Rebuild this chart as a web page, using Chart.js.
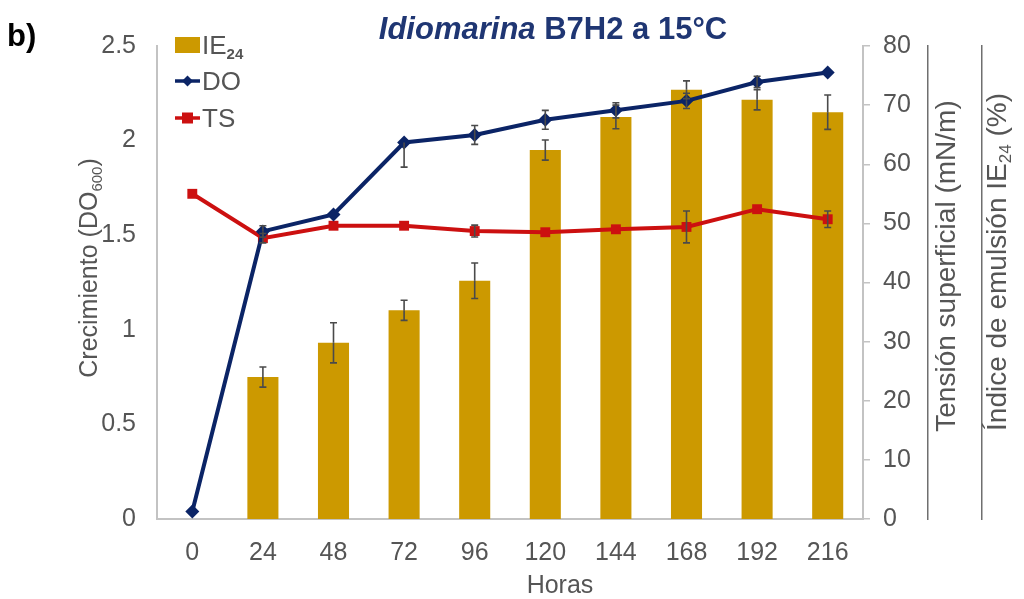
<!DOCTYPE html>
<html>
<head>
<meta charset="utf-8">
<script src="https://cdn.jsdelivr.net/npm/chart.js@4/dist/chart.umd.min.js"></script>
<style>
  html, body { margin: 0; padding: 0; background: #ffffff; }
  #wrap { width: 1024px; height: 599px; position: relative; }
  canvas { display: block; }
</style>
</head>
<body>
<div id="wrap"><canvas id="chart" width="1024" height="599"></canvas></div>
<script>
// Sampling times (hours)
const horas = ['0', '24', '48', '72', '96', '120', '144', '168', '192', '216'];

// Emulsification index IE24 (%) and its standard deviation
const ie24 = [null, 24.0, 29.8, 35.3, 40.3, 62.4, 68.0, 72.6, 70.9, 68.8];
const ie24Err = [0, 1.7, 3.4, 1.7, 3.0, 1.7, 2.0, 1.5, 1.7, 2.9];

// Growth (OD600) with upper / lower deviations
const doValues = [0.04, 1.52, 1.61, 1.99, 2.03, 2.11, 2.16, 2.21, 2.31, 2.36];
const doErrUp = [0, 0.03, 0, 0, 0.05, 0.05, 0.04, 0.04, 0.03, 0];
const doErrDown = [0, 0.03, 0, 0.13, 0.05, 0.05, 0.04, 0.04, 0.03, 0];

// Surface tension (mN/m) and its deviation
const tsValues = [55.0, 47.5, 49.6, 49.6, 48.7, 48.5, 49.0, 49.4, 52.4, 50.7];
const tsErr = [0, 0.8, 0, 0, 1.0, 0, 0, 2.7, 0, 1.4];

// Axis tick labels
const leftTicks = [0, 0.5, 1, 1.5, 2, 2.5];
const rightTicks = [0, 10, 20, 30, 40, 50, 60, 70, 80];

const FONT = "'Liberation Sans', Arial, sans-serif";
const GREY = '#555555';
const AXIS = '#c3c3c3';
const GOLD = '#cc9900';
const NAVY = '#0b2466';
const RED = '#cc1010';
const TITLE_BLUE = '#1f3673';

Chart.defaults.font.family = FONT;
Chart.defaults.color = GREY;

// Draw a run of text pieces (some of them subscripts) starting at x
function richWidth(ctx, parts) {
  let w = 0;
  parts.forEach(p => { ctx.font = p.font; w += ctx.measureText(p.text).width; });
  return w;
}
function drawRich(ctx, parts, x, y, align) {
  const w = richWidth(ctx, parts);
  let cx = align === 'center' ? x - w / 2 : x;
  ctx.textAlign = 'left';
  ctx.textBaseline = 'alphabetic';
  parts.forEach(p => {
    ctx.font = p.font;
    ctx.fillStyle = p.color;
    ctx.fillText(p.text, cx, y + (p.dy || 0));
    cx += ctx.measureText(p.text).width;
  });
}

// Error bars, drawn from the dataset values through each dataset's own scale
const errorBars = {
  id: 'errorBars',
  afterDatasetsDraw(chart) {
    const ctx = chart.ctx;
    const sets = [
      { index: 0, up: ie24Err, down: ie24Err, values: ie24 },
      { index: 1, up: doErrUp, down: doErrDown, values: doValues },
      { index: 2, up: tsErr, down: tsErr, values: tsValues }
    ];
    ctx.save();
    ctx.strokeStyle = '#4a4a4a';
    ctx.lineWidth = 1.6;
    sets.forEach(s => {
      const meta = chart.getDatasetMeta(s.index);
      const scale = chart.scales[meta.yAxisID];
      meta.data.forEach((el, i) => {
        const v = s.values[i];
        if (v === null || v === undefined) return;
        const x = el.x;
        const cap = 3.5;
        [[s.up[i], 1], [s.down[i], -1]].forEach(([e, sign]) => {
          if (!(e > 0)) return;
          const y0 = scale.getPixelForValue(v);
          const y1 = scale.getPixelForValue(v + sign * e);
          ctx.beginPath();
          ctx.moveTo(x, y0); ctx.lineTo(x, y1);
          ctx.moveTo(x - cap, y1); ctx.lineTo(x + cap, y1);
          ctx.stroke();
        });
      });
    });
    ctx.restore();
  }
};

// Title, panel letter, axis titles and the in-plot legend
const decorations = {
  id: 'decorations',
  afterDraw(chart) {
    const ctx = chart.ctx;
    const area = chart.chartArea;
    ctx.save();

    // panel letter
    ctx.font = `bold 31px ${FONT}`;
    ctx.fillStyle = '#000000';
    ctx.textAlign = 'left';
    ctx.textBaseline = 'middle';
    ctx.fillText('b)', 7, 37);

    // chart title
    drawRich(ctx, [
      { text: 'Idiomarina', font: `italic bold 31px ${FONT}`, color: TITLE_BLUE },
      { text: ' B7H2 a 15°C', font: `bold 31px ${FONT}`, color: TITLE_BLUE }
    ], 553, 39, 'center');

    // x axis title
    drawRich(ctx, [
      { text: 'Horas', font: `25px ${FONT}`, color: GREY }
    ], 560, 593, 'center');

    // left axis title
    ctx.save();
    ctx.translate(97, 268);
    ctx.rotate(-Math.PI / 2);
    drawRich(ctx, [
      { text: 'Crecimiento (DO', font: `25px ${FONT}`, color: GREY },
      { text: '600', font: `15px ${FONT}`, color: GREY, dy: 5 },
      { text: ')', font: `25px ${FONT}`, color: GREY }
    ], 0, 0, 'center');
    ctx.restore();

    // right axis titles
    const yTitle = chart.scales.yTitle;
    const yIE = chart.scales.yIE;
    ctx.save();
    ctx.translate(yTitle.left + 27, 266);
    ctx.rotate(-Math.PI / 2);
    drawRich(ctx, [
      { text: 'Tensión superficial (mN/m)', font: `28px ${FONT}`, color: GREY }
    ], 0, 0, 'center');
    ctx.restore();

    ctx.save();
    ctx.translate(yIE.left + 24, 262);
    ctx.rotate(-Math.PI / 2);
    drawRich(ctx, [
      { text: 'Índice de emulsión IE', font: `28px ${FONT}`, color: GREY },
      { text: '24', font: `17px ${FONT}`, color: GREY, dy: 5 },
      { text: ' (%)', font: `28px ${FONT}`, color: GREY }
    ], 0, 0, 'center');
    ctx.restore();

    // legend
    const lx = area.left + 18;
    const items = [
      { type: 'box', color: GOLD, y: 45, parts: [
        { text: 'IE', font: `26px ${FONT}`, color: GREY },
        { text: '24', font: `bold 15px ${FONT}`, color: GREY, dy: 5 }] },
      { type: 'line', color: NAVY, style: 'diamond', y: 81, parts: [
        { text: 'DO', font: `26px ${FONT}`, color: GREY }] },
      { type: 'line', color: RED, style: 'square', y: 118, parts: [
        { text: 'TS', font: `26px ${FONT}`, color: GREY }] }
    ];
    items.forEach(it => {
      if (it.type === 'box') {
        ctx.fillStyle = it.color;
        ctx.fillRect(lx, it.y - 8, 25, 16);
      } else {
        ctx.strokeStyle = it.color;
        ctx.lineWidth = 3.5;
        ctx.beginPath();
        ctx.moveTo(lx, it.y); ctx.lineTo(lx + 25, it.y);
        ctx.stroke();
        ctx.fillStyle = it.color;
        const mx = lx + 12.5;
        if (it.style === 'diamond') {
          ctx.beginPath();
          ctx.moveTo(mx, it.y - 5.5); ctx.lineTo(mx + 5.5, it.y);
          ctx.lineTo(mx, it.y + 5.5); ctx.lineTo(mx - 5.5, it.y);
          ctx.closePath(); ctx.fill();
        } else {
          ctx.fillRect(mx - 5.5, it.y - 5.5, 11, 11);
        }
      }
      drawRich(ctx, it.parts, lx + 27, it.y + 9, 'left');
    });

    ctx.restore();
  }
};

new Chart(document.getElementById('chart'), {
  type: 'bar',
  data: {
    labels: horas,
    datasets: [
      {
        type: 'bar',
        label: 'IE24',
        data: ie24,
        yAxisID: 'yIE',
        backgroundColor: GOLD,
        borderWidth: 0,
        categoryPercentage: 1,
        barPercentage: 0.44,
        order: 3
      },
      {
        type: 'line',
        label: 'DO',
        data: doValues,
        yAxisID: 'y',
        borderColor: NAVY,
        backgroundColor: NAVY,
        borderWidth: 4,
        pointStyle: 'rectRot',
        pointRadius: 7,
        pointBorderWidth: 0,
        tension: 0,
        order: 1
      },
      {
        type: 'line',
        label: 'TS',
        data: tsValues,
        yAxisID: 'yTS',
        borderColor: RED,
        backgroundColor: RED,
        borderWidth: 4,
        pointStyle: 'rect',
        pointRadius: 7,
        pointBorderWidth: 0,
        tension: 0,
        order: 2
      }
    ]
  },
  options: {
    responsive: false,
    animation: false,
    devicePixelRatio: 1,
    layout: { padding: { top: 46, left: 0, right: 0, bottom: 0 } },
    plugins: {
      legend: { display: false },
      tooltip: { enabled: false }
    },
    scales: {
      x: {
        offset: true,
        grid: { display: false, drawTicks: false },
        border: { display: true, color: AXIS, width: 2 },
        ticks: { color: GREY, font: { size: 25 }, padding: 19 },
        afterFit(s) { s.height = 80; }
      },
      y: {
        position: 'left',
        min: 0,
        max: 2.5,
        afterBuildTicks(s) { s.ticks = leftTicks.map(v => ({ value: v })); },
        ticks: { color: GREY, font: { size: 25 }, padding: 21, callback: v => String(v) },
        grid: { display: false, drawTicks: false },
        border: { display: true, color: AXIS, width: 2 },
        afterFit(s) { s.width = 157; }
      },
      yTS: {
        position: 'right',
        min: 0,
        max: 80,
        afterBuildTicks(s) { s.ticks = rightTicks.map(v => ({ value: v })); },
        ticks: { color: GREY, font: { size: 25 }, padding: 13 },
        grid: { drawOnChartArea: false, drawTicks: true, tickLength: 7, color: AXIS, lineWidth: 1.5 },
        border: { display: true, color: AXIS, width: 2 },
        afterFit(s) { s.width = 65; }
      },
      yTitle: {
        position: 'right',
        min: 0,
        max: 80,
        ticks: { display: false },
        grid: { display: false, drawTicks: false },
        border: { display: true, color: '#6f6f6f', width: 1.5 },
        afterFit(s) { s.width = 54; }
      },
      yIE: {
        position: 'right',
        min: 0,
        max: 80,
        ticks: { display: false },
        grid: { display: false, drawTicks: false },
        border: { display: true, color: '#6f6f6f', width: 1.5 },
        afterFit(s) { s.width = 42; }
      }
    }
  },
  plugins: [errorBars, decorations]
});
</script>
</body>
</html>
